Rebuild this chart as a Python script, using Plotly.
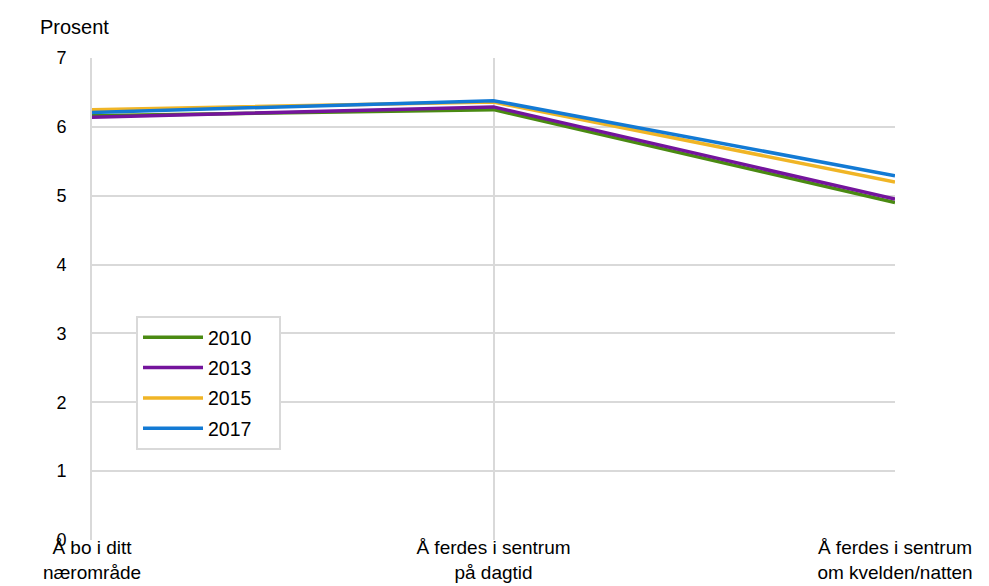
import plotly.graph_objects as go

categories = ["Å bo i ditt<br>nærområde", "Å ferdes i sentrum<br>på dagtid", "Å ferdes i sentrum<br>om kvelden/natten"]
years = ["2010", "2013", "2015", "2017"]
values_2010 = [6.16, 6.25, 4.90]
values_2013 = [6.14, 6.29, 4.95]
values_2015 = [6.25, 6.36, 5.20]
values_2017 = [6.21, 6.38, 5.29]
colors = ["#4a8a12", "#74149c", "#f0b526", "#137ad4"]

series = [values_2010, values_2013, values_2015, values_2017]

fig = go.Figure()
for name, vals, col in zip(years, series, colors):
    fig.add_trace(go.Scatter(x=[0, 1, 2], y=vals, mode="lines",
                             name=name + "\u00a0\u00a0\u00a0\u00a0",
                             legendgroup=name,
                             line=dict(color=col, width=3.5)))

L, R, T, B = 84, 102, 50, 54
W, H = 989 - L - R, 586 - T - B
font = dict(family="Liberation Sans, Arial, sans-serif", size=20, color="#000000")
fig.update_layout(
    template="none",
    width=989, height=586,
    margin=dict(l=L, r=R, t=T, b=B, pad=0),
    paper_bgcolor="white", plot_bgcolor="white",
    font=font,
    showlegend=True,
    legend=dict(x=(128-L)/W, y=(586-B-308)/H, xanchor="left", yanchor="top",
                bordercolor="#d9d9d9", borderwidth=2, bgcolor="white",
                font=dict(size=19.5), tracegroupgap=2, itemwidth=60),
    xaxis=dict(range=[0, 2], tickmode="array", tickvals=[0, 1, 2], ticktext=categories,
               showgrid=True, gridcolor="#d9d9d9", gridwidth=2, zeroline=False,
               showline=False, ticks="", tickfont=dict(size=19), automargin=False,
               ticklabelstandoff=-6),
    yaxis=dict(range=[0, 7], dtick=1, showgrid=True, gridcolor="#d9d9d9", gridwidth=2,
               zeroline=False, showline=True, linecolor="#d9d9d9", linewidth=2,
               ticks="", ticklabelstandoff=20, tickfont=dict(size=18), automargin=False),
    annotations=[dict(text="Prosent", x=(30-L)/W, y=1 + (T-19)/H,
                      xref="paper", yref="paper", xanchor="left", yanchor="middle",
                      showarrow=False, font=dict(size=20))],
)
fig.write_html("out.html")
